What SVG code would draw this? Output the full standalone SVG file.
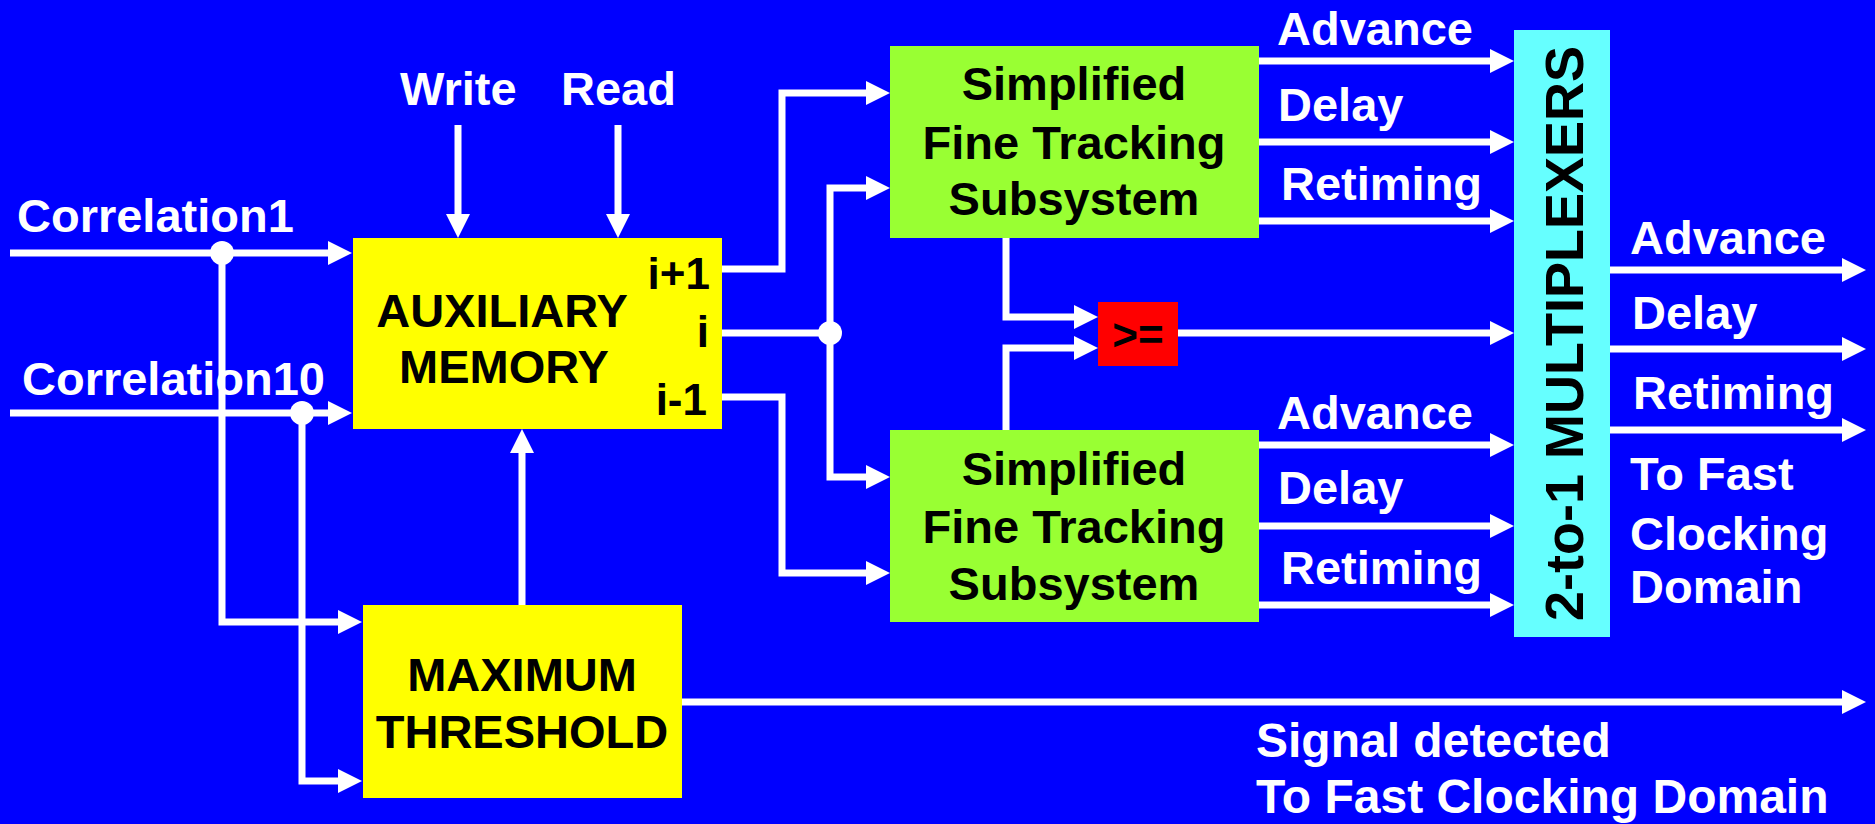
<svg xmlns="http://www.w3.org/2000/svg" width="1875" height="824" viewBox="0 0 1875 824">
<defs>
<marker id="ah" markerUnits="userSpaceOnUse" markerWidth="26" markerHeight="26" refX="1" refY="12" orient="auto" overflow="visible">
<path d="M0,0 L24,12 L0,24 z" fill="#fff"/>
</marker>
<style>
.t{font-family:"Liberation Sans",Arial,sans-serif;font-weight:bold;font-size:47px}
.w{fill:#fff}
.k{fill:#000}
.c{text-anchor:middle}
.e{text-anchor:end}
.ln{fill:none;stroke:#fff;stroke-width:7;stroke-linejoin:miter}
.a{marker-end:url(#ah)}
.dot{fill:#fff}
</style>
</defs>
<rect x="0" y="0" width="1875" height="824" fill="#0000FF"/>

<g id="connectors">
<polyline class="ln a" points="10,253 329,253"/>
<polyline class="ln a" points="10,413 329,413"/>
<polyline class="ln a" points="222,253 222,622 339,622"/>
<polyline class="ln a" points="302,413 302,781 339,781"/>
<polyline class="ln a" points="458,125 458,215"/>
<polyline class="ln a" points="618,125 618,215"/>
<polyline class="ln a" points="522,605 522,452"/>
<polyline class="ln a" points="722,269 782,269 782,93 867,93"/>
<polyline class="ln" points="722,333 830,333"/>
<polyline class="ln a" points="830,333 830,188 867,188"/>
<polyline class="ln a" points="830,333 830,477 867,477"/>
<polyline class="ln a" points="722,397 782,397 782,573 867,573"/>
<polyline class="ln a" points="1006,238 1006,317 1075,317"/>
<polyline class="ln a" points="1006,430 1006,348 1075,348"/>
<polyline class="ln a" points="1178,333 1491,333"/>
<polyline class="ln a" points="1259,61 1491,61"/>
<polyline class="ln a" points="1259,142 1491,142"/>
<polyline class="ln a" points="1259,221 1491,221"/>
<polyline class="ln a" points="1259,445 1491,445"/>
<polyline class="ln a" points="1259,526 1491,526"/>
<polyline class="ln a" points="1259,605 1491,605"/>
<polyline class="ln a" points="1610,270 1843,270"/>
<polyline class="ln a" points="1610,349 1843,349"/>
<polyline class="ln a" points="1610,430 1843,430"/>
<polyline class="ln a" points="682,702 1843,702"/>
<circle class="dot" cx="222" cy="253" r="12"/>
<circle class="dot" cx="302" cy="413" r="12"/>
<circle class="dot" cx="830" cy="333" r="12"/>
</g>

<g id="labels">
<text class="t w" x="17" y="232">Correlation1</text>
<text class="t w" x="22" y="395">Correlation10</text>
<text class="t w" x="400" y="105">Write</text>
<text class="t w" x="561" y="105">Read</text>
<text class="t w" x="1277" y="45">Advance</text>
<text class="t w" x="1278" y="121">Delay</text>
<text class="t w" x="1281" y="200">Retiming</text>
<text class="t w" x="1277" y="429">Advance</text>
<text class="t w" x="1278" y="504">Delay</text>
<text class="t w" x="1281" y="584">Retiming</text>
<text class="t w" x="1630" y="254">Advance</text>
<text class="t w" x="1632" y="329">Delay</text>
<text class="t w" x="1633" y="409">Retiming</text>
<text class="t w" x="1630" y="490">To Fast</text>
<text class="t w" x="1630" y="550">Clocking</text>
<text class="t w" x="1630" y="603">Domain</text>
<text class="t w" x="1256" y="757" style="font-size:48px">Signal detected</text>
<text class="t w" x="1256" y="813" style="font-size:48px">To Fast Clocking Domain</text>
</g>

<g id="aux">
<rect x="353" y="238" width="369" height="191" fill="#FFFF00"/>
<text class="t k c" x="502" y="327">AUXILIARY</text>
<text class="t k c" x="504" y="383">MEMORY</text>
<text class="t k e" x="710" y="289" style="font-size:44px">i+1</text>
<text class="t k e" x="709" y="347" style="font-size:44px">i</text>
<text class="t k e" x="707" y="415" style="font-size:44px">i-1</text>
</g>

<g id="maxth">
<rect x="363" y="605" width="319" height="193" fill="#FFFF00"/>
<text class="t k c" x="522" y="691">MAXIMUM</text>
<text class="t k c" x="522" y="748">THRESHOLD</text>
</g>

<g id="stf1">
<rect x="890" y="46" width="369" height="192" fill="#99FF33"/>
<text class="t k c" x="1074" y="100">Simplified</text>
<text class="t k c" x="1074" y="159">Fine Tracking</text>
<text class="t k c" x="1074" y="215">Subsystem</text>
</g>

<g id="stf2">
<rect x="890" y="430" width="369" height="192" fill="#99FF33"/>
<text class="t k c" x="1074" y="485">Simplified</text>
<text class="t k c" x="1074" y="543">Fine Tracking</text>
<text class="t k c" x="1074" y="600">Subsystem</text>
</g>

<g id="cmp">
<rect x="1098" y="302" width="80" height="64" fill="#FF0000"/>
<text class="t k c" x="1138" y="350" style="font-size:44px">&gt;=</text>
</g>

<g id="mux">
<rect x="1514" y="30" width="96" height="607" fill="#66FFFF"/>
<text class="t k c" transform="translate(1583,333.5) rotate(-90)" x="0" y="0" style="font-size:54px">2-to-1 MULTIPLEXERS</text>
</g>
</svg>
